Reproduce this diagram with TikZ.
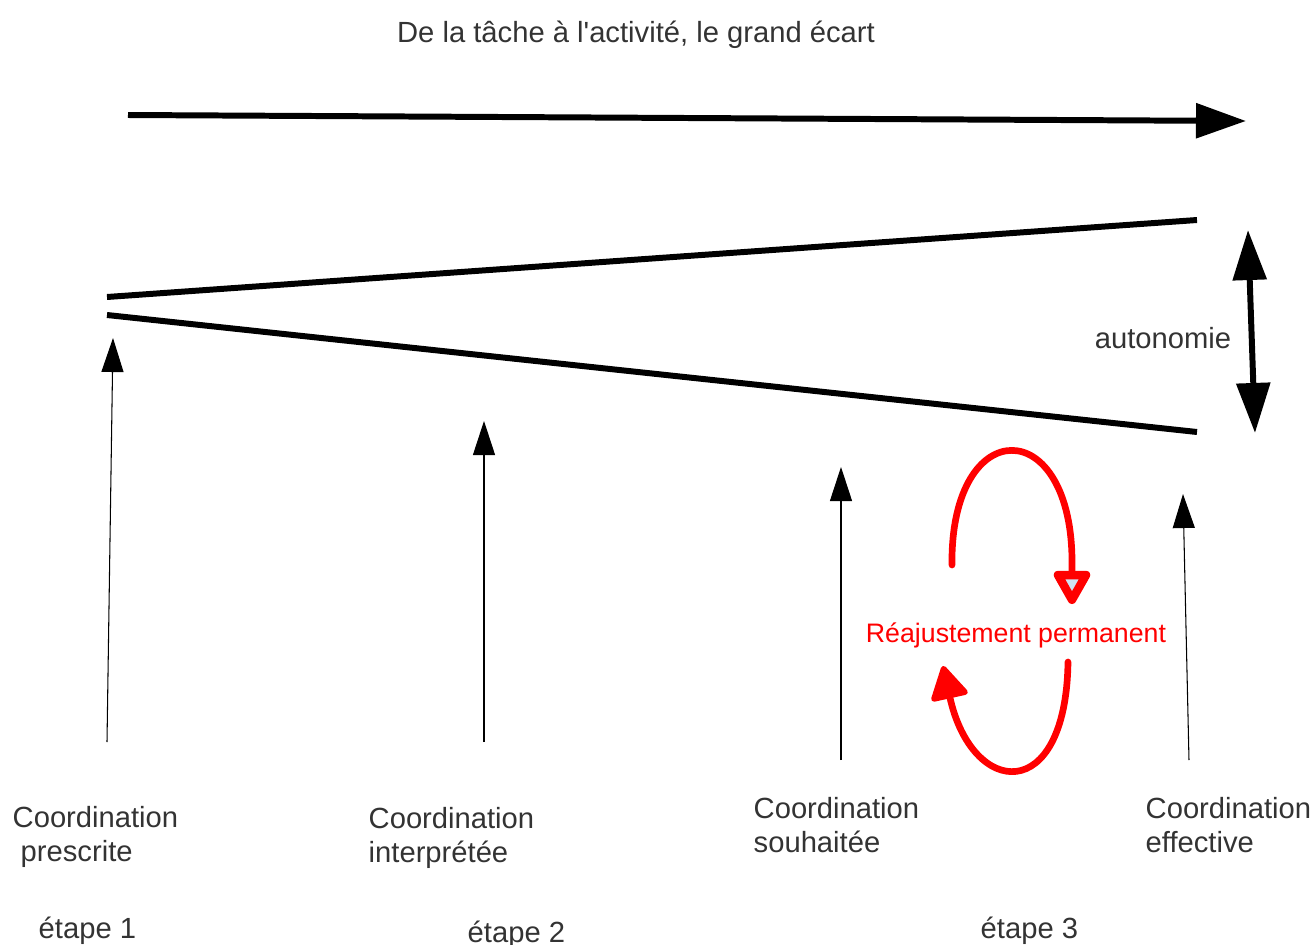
\documentclass[tikz,border=0pt]{standalone}
\usepackage{fontspec}
\setmainfont{Liberation Sans}
\usetikzlibrary{arrows.meta,positioning}
\definecolor{txtgray}{HTML}{333333}
\definecolor{tipblue}{HTML}{CFE2F3}

\begin{document}
\begin{tikzpicture}[x=0.01cm, y=-0.01cm,
  lbl/.style={font=\fontsize{8.3}{9.7}\selectfont, text=txtgray, inner sep=0pt, align=left},
  bold/.style={line width=1.7pt},
  big/.style={bold, -{Triangle[length=0.5cm, width=0.34cm]}},
  up/.style={line width=0.3pt, -{Triangle[length=0.34cm, width=0.22cm]}},
  loop/.style={red, line width=1.9pt}]
  \useasboundingbox (0,0) rectangle (1314,945);

  \node[lbl, anchor=base] (title) at (636,42) {De la tâche à l\textquotesingle activité, le grand écart};
  \coordinate (startT) at (128,115);
  \coordinate (endT) at (1246,121);
  \draw[big] (startT) -- (endT);

  \coordinate (apexA) at (107,297);
  \coordinate (apexB) at (107,315);
  \coordinate (openA) at (1197,220);
  \coordinate (openB) at (1197,432);
  \draw[bold] (apexA) -- (openA);
  \draw[bold] (apexB) -- (openB);

  \coordinate (autTop) at (1248,230);
  \coordinate (autBot) at (1255,433);
  \draw[bold, {Triangle[length=0.5cm, width=0.33cm]}-{Triangle[length=0.5cm, width=0.33cm]}] (autTop) -- (autBot);
  \node[lbl, anchor=base] (auto) at (1163,348) {autonomie};

  \node[lbl, anchor=north west] (prescr) at (12,806) {Coordination\\\hspace{0.08cm}prescrite};
  \node[lbl, anchor=north west] (interp) at (368,807) {Coordination\\interprétée};
  \node[lbl, anchor=north west] (souh) at (753,797) {Coordination\\souhaitée};
  \node[lbl, anchor=north west] (effec) at (1145,797) {Coordination\\effective};

  \node[lbl, anchor=base west] (et1) at (38,938) {étape 1};
  \node[lbl, anchor=base west] (et2) at (467,942) {étape 2};
  \node[lbl, anchor=base west] (et3) at (980,938) {étape 3};

  \coordinate (tail1) at (107,742);
  \coordinate (head1) at (113,338);
  \coordinate (tail2) at (484,742);
  \coordinate (head2) at (484,421);
  \coordinate (tail3) at (841,760);
  \coordinate (head3) at (841,467);
  \coordinate (tail4) at (1189,760);
  \coordinate (head4) at (1183,494);
  \draw[up] (tail1) -- (head1);
  \draw[up] (tail2) -- (head2);
  \draw[up] (tail3) -- (head3);
  \draw[up] (tail4) -- (head4);

  \node[font=\fontsize{7.6}{9}\selectfont, text=red, inner sep=0pt, anchor=base] (reaj) at (1016,642) {Réajustement permanent};
  \coordinate (loopA) at (952,565);
  \coordinate (loopB) at (1072,604);
  \coordinate (loopC) at (1068,662);
  \coordinate (loopD) at (943,666);
  \draw[loop, line cap=round, -{Triangle[length=0.38cm, width=0.4cm, fill=tipblue, line width=2.4pt, round]}]
    (loopA) .. controls (950,412) and (1074,412) .. (1072,566) -- (loopB);
  \draw[loop, line cap=round, -{Triangle[length=0.36cm, width=0.4cm, line width=1.6pt, round]}]
    (loopC) .. controls (1066,806) and (972,798) .. (loopD);
\end{tikzpicture}
\end{document}
